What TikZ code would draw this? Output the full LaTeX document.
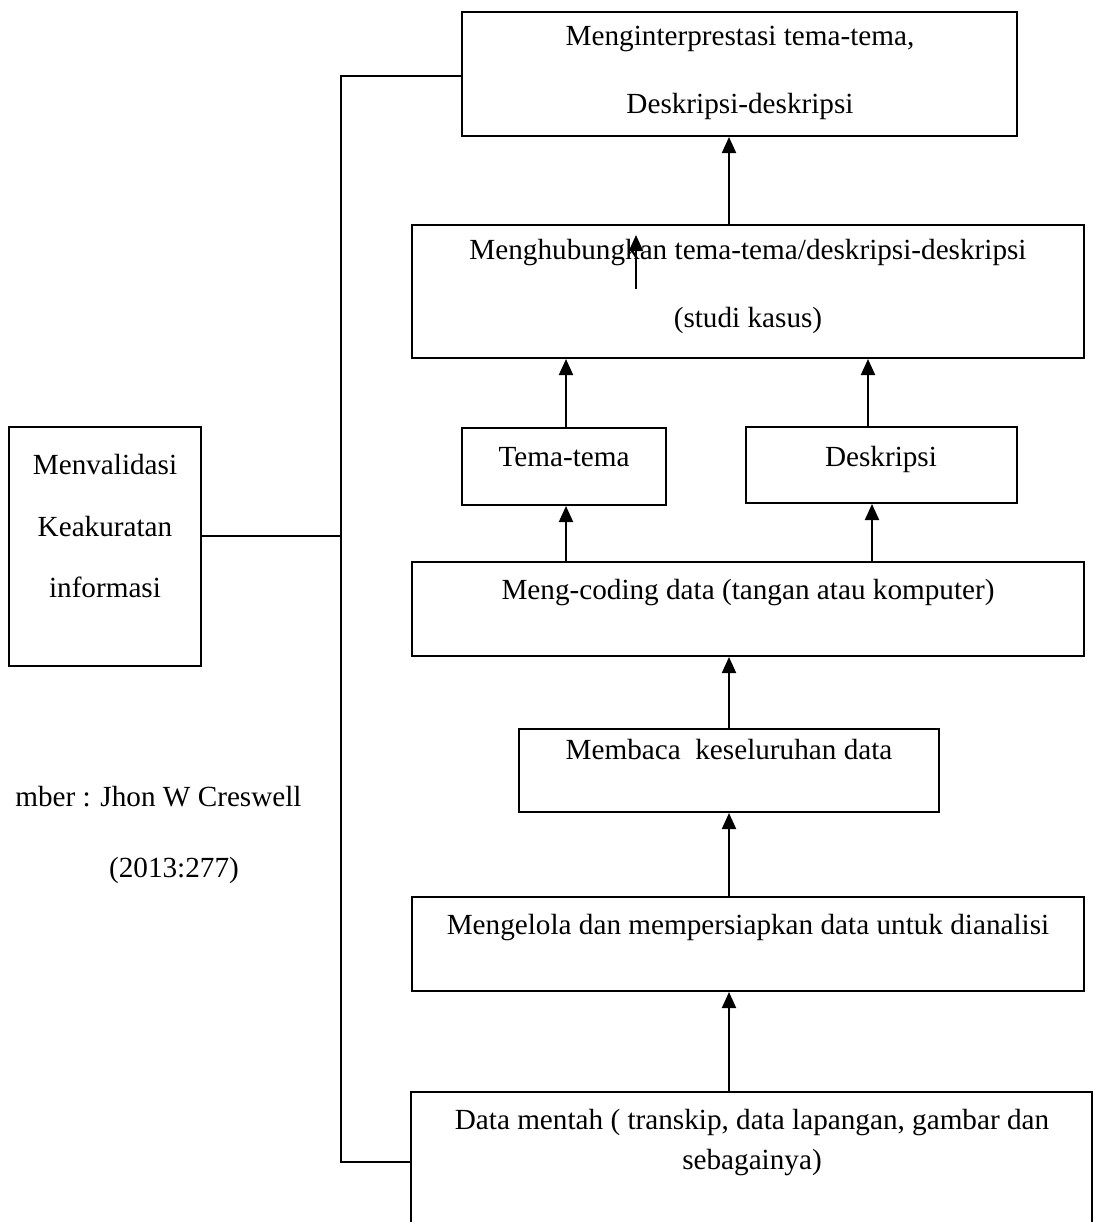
\documentclass[tikz,border=0pt]{standalone}
\usepackage{fontspec}
\setmainfont{Liberation Serif}
\usetikzlibrary{arrows.meta,positioning,fit}

\begin{document}
\begin{tikzpicture}[x=0.5pt,y=-0.5pt,
    kotak/.style={draw,line width=1pt,inner sep=0pt},
    teks/.style={align=center,inner sep=0pt,font=\fontsize{14.6}{#1}\selectfont},
    teks/.default=17,
    satu/.style={teks,text height=10pt,text depth=3pt},
    garis/.style={line width=1pt},
    panah/.style={line width=1pt,-{Triangle[length=8pt,width=7pt]}}]
            \useasboundingbox (0,0) rectangle (1097,1222);

            % kotak-kotak
            \node[kotak,fit={(462,12) (1017,136)}] (interp) {};
            \node[kotak,fit={(412,225) (1084,358)}] (hubung) {};
            \node[kotak,fit={(462,428) (666,505)}] (tema) {};
            \node[kotak,fit={(746,427) (1017,503)}] (deskripsi) {};
            \node[kotak,fit={(412,562) (1084,656)}] (coding) {};
            \node[kotak,fit={(519,729) (939,812)}] (membaca) {};
            \node[kotak,fit={(412,897) (1084,991)}] (kelola) {};
            \node[kotak,fit={(411,1092) (1092,1240)}] (mentah) {};
            \node[kotak,fit={(9,427) (201,666)}] (validasi) {};

            % tulisan
            \node[teks=34] (interp-t) at (740,73) {Menginterprestasi tema-tema,\\Deskripsi-deskripsi};
            \node[teks=34] (hubung-t) at (748,286) {Menghubungkan tema-tema/deskripsi-deskripsi\\(studi kasus)};
            \node[satu] (tema-t) at (564,459) {Tema-tema};
            \node[satu] (deskripsi-t) at (881,459) {Deskripsi};
            \node[satu] (coding-t) at (748,592) {Meng-coding data (tangan atau komputer)};
            \node[satu] (membaca-t) at (729,752) {Membaca\ \ keseluruhan data};
            \node[satu] (kelola-t) at (748,927) {Mengelola dan mempersiapkan data untuk dianalisi};
            \node[teks=20] (mentah-t) at (752,1143) {Data mentah ( transkip, data lapangan, gambar dan\\sebagainya)};
            \node[teks=31] (validasi-t) at (105,526) {Menvalidasi\\Keakuratan\\informasi};
            \node[satu,anchor=east] (sumber) at (302,799) {mber : Jhon W Creswell};
            \node[satu] (tahun) at (174,870) {(2013:277)};

            % panah ke atas
            \draw[panah] (mentah.north -| 729,0) -- (kelola.south -| 729,0);
            \draw[panah] (kelola.north -| 729,0) -- (membaca.south -| 729,0);
            \draw[panah] (membaca.north -| 729,0) -- (coding.south -| 729,0);
            \draw[panah] (coding.north -| 566,0) -- (tema.south -| 566,0);
            \draw[panah] (coding.north -| 872,0) -- (deskripsi.south -| 872,0);
            \draw[panah] (tema.north -| 566,0) -- (hubung.south -| 566,0);
            \draw[panah] (deskripsi.north -| 868,0) -- (hubung.south -| 868,0);
            \draw[panah] (hubung.north -| 729,0) -- (interp.south -| 729,0);
            \coordinate (sisa-a) at (636,289);
            \coordinate (sisa-b) at (636,235);
            \draw[panah] (sisa-a) -- (sisa-b);

            % garis validasi
            \coordinate (siku-a) at (341,76);
            \coordinate (siku-b) at (341,1162);
            \draw[garis] (interp.west |- siku-a) -- (siku-a) -- (siku-b) -- (mentah.west |- siku-b);
            \draw[garis] (validasi.east |- 0,536) -- (341,536);
        \end{tikzpicture}
\end{document}
